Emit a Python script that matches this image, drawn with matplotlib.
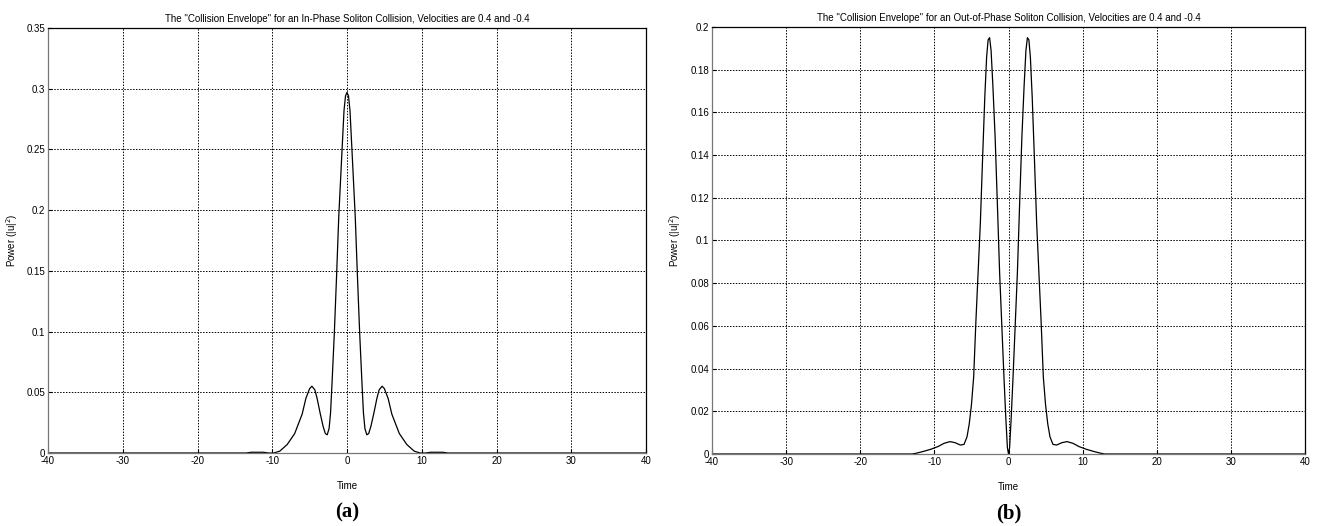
import numpy as np
import matplotlib.pyplot as plt

# --- datos ---
# (a) colision en fase
t_in = [-40, -13.5, -12.8, -11.2, -10.5, -9.8, -9.0, -8.0, -7.0, -6.0, -5.5, -5.0, -4.7,
        -4.3, -4.0, -3.6, -3.2, -2.9, -2.65, -2.4, -2.2, -2.0, -1.7, -1.4, -1.1, -0.7,
        -0.4, -0.2, 0.0,
        0.2, 0.4, 0.7, 1.1, 1.4, 1.7, 2.0, 2.2, 2.4, 2.65, 2.9, 3.2, 3.6, 4.0, 4.3,
        4.7, 5.0, 5.5, 6.0, 7.0, 8.0, 9.0, 9.8, 10.5, 11.2, 12.8, 13.5, 40]
p_in = [0, 0, 0.0006, 0.0006, 0.0, 0.0, 0.0015, 0.007, 0.016, 0.032, 0.045, 0.053, 0.055,
        0.052, 0.045, 0.033, 0.022, 0.016, 0.015, 0.020, 0.033, 0.058, 0.098, 0.145, 0.195, 0.245,
        0.282, 0.294, 0.297,
        0.294, 0.282, 0.245, 0.195, 0.145, 0.098, 0.058, 0.033, 0.020, 0.015, 0.016, 0.022, 0.033,
        0.045, 0.052, 0.055, 0.053, 0.045, 0.032, 0.016, 0.007, 0.0015, 0.0, 0.0, 0.0006, 0.0006,
        0, 0]

# (b) colision en contrafase
t_out = [-40, -13.0, -12.5, -11.5, -10.5, -9.5, -8.7, -7.9, -7.2, -6.5, -6.0, -5.6, -5.3,
         -5.0, -4.7, -4.4, -4.1, -3.8, -3.5, -3.2, -2.95, -2.75, -2.55, -2.35, -2.1, -1.8,
         -1.5, -1.2, -0.9, -0.6, -0.35, -0.15, 0.0,
         0.15, 0.35, 0.6, 0.9, 1.2, 1.5, 1.8, 2.1, 2.35, 2.55, 2.75, 2.95, 3.2, 3.5, 3.8,
         4.1, 4.4, 4.7, 5.0, 5.3, 5.6, 6.0, 6.5, 7.2, 7.9, 8.7, 9.5, 10.5, 11.5, 12.5, 13.0, 40]
p_out = [0, 0, 0.0003, 0.0012, 0.0022, 0.0035, 0.005, 0.0058, 0.0053, 0.0042, 0.0045, 0.008, 0.014,
         0.023, 0.036, 0.062, 0.085, 0.108, 0.138, 0.167, 0.186, 0.194, 0.195, 0.189, 0.172, 0.148,
         0.117, 0.085, 0.060, 0.035, 0.016, 0.003, 0.0,
         0.003, 0.016, 0.035, 0.060, 0.085, 0.117, 0.148, 0.172, 0.189, 0.195, 0.194, 0.186, 0.167,
         0.138, 0.108, 0.085, 0.062, 0.036, 0.023, 0.014, 0.008, 0.0045, 0.0042, 0.0053, 0.0058,
         0.005, 0.0035, 0.0022, 0.0012, 0.0003, 0, 0]

x_ticks = [-40, -30, -20, -10, 0, 10, 20, 30, 40]
y_ticks_a = [0, 0.05, 0.1, 0.15, 0.2, 0.25, 0.3, 0.35]
y_ticks_b = [0, 0.02, 0.04, 0.06, 0.08, 0.1, 0.12, 0.14, 0.16, 0.18, 0.2]

titulo_a = 'The "Collision Envelope" for an In-Phase Soliton Collision, Velocities are 0.4 and -0.4'
titulo_b = 'The "Collision Envelope" for an Out-of-Phase Soliton Collision, Velocities are 0.4 and -0.4'

plt.rcParams['font.family'] = ['Liberation Sans', 'DejaVu Sans']

fig = plt.figure(figsize=(13.17, 5.26), dpi=100)
ax1 = fig.add_axes([48 / 1317, 73 / 526, 598 / 1317, 425 / 526])
ax2 = fig.add_axes([712 / 1317, 72 / 526, 593 / 1317, 427 / 526])


def dibujar(ax, t, p, yt, ymax, titulo, letra):
    ax.plot(t, p, color='black', lw=0.9)
    ax.set_xlim(-40, 40)
    ax.set_ylim(0, ymax)
    ax.set_xticks(x_ticks)
    ax.set_yticks(yt)
    ax.set_xticklabels([str(v) for v in x_ticks])
    ax.set_yticklabels([f'{v:g}' for v in yt])
    ax.grid(True, linestyle=(0, (1.5, 1.5)), color='black', lw=0.7)
    ax.tick_params(direction='in', length=3, labelsize=7, pad=2, color='black')
    for s in ax.spines.values():
        s.set_linewidth(0.9)
        s.set_color('black')
    ax.spines['bottom'].set_color('#777777')
    ax.spines['left'].set_color('#777777')
    ax.set_title(titulo, fontsize=7, pad=4)
    ax.set_xlabel('Time', fontsize=7, labelpad=11)
    ax.set_ylabel('Power (|u|$^2$)', fontsize=7, labelpad=5)
    ax.text(0.5, -0.14, letra, transform=ax.transAxes, ha='center', va='center',
            fontsize=15, fontweight='bold', family='Liberation Serif')


dibujar(ax1, t_in, p_in, y_ticks_a, 0.35, titulo_a, '(a)')
dibujar(ax2, t_out, p_out, y_ticks_b, 0.2, titulo_b, '(b)')

plt.savefig('out.png', dpi=100)
